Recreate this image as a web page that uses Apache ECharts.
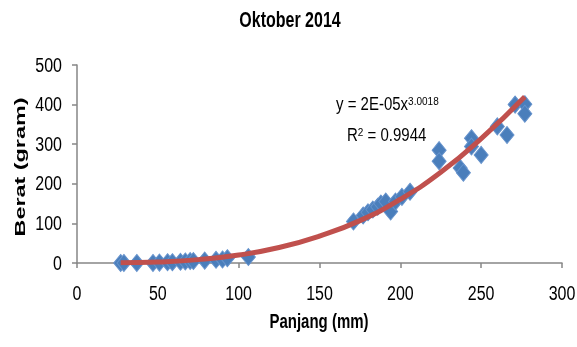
<!DOCTYPE html>
<html>
<head>
<meta charset="utf-8">
<script src="https://cdn.jsdelivr.net/npm/echarts@6/dist/echarts.min.js"></script>
<style>html,body{margin:0;padding:0;background:#fff}#c{width:577px;height:347px}</style>
</head>
<body>
<div id="c"></div>
<script>
// Observed data: Panjang (mm) vs Berat (gram)
var panjang = [27, 29, 37, 47, 51, 56, 59, 64, 67, 70, 72, 79, 86, 90, 93, 106,
  171, 177, 180, 183, 186, 188, 191, 194, 197, 201, 206,
  224, 224, 237, 239, 244, 244, 250, 260, 266, 271, 277, 277];
var berat = [0, 0, 0, 0, 1, 2, 2, 3, 4, 5, 5, 6, 8, 9, 12, 15,
  105, 120, 128, 135, 142, 150, 155, 130, 155, 167, 180,
  285, 257, 240, 228, 315, 294, 273, 345, 323, 400, 401, 377];
// Power trendline
var trendX = [27, 50, 75, 100, 125, 150, 175, 200, 225, 250, 277];
var trendY = [0.4, 2.5, 8.5, 20, 39, 68, 107, 161, 229, 314, 420];
var xTicks = [0, 50, 100, 150, 200, 250, 300];
var yTicks = [0, 100, 200, 300, 400, 500];
var titleText = 'Oktober 2014';
var xName = 'Panjang (mm)';
var yName = 'Berat (gram)';

var FONT = "'Liberation Sans', Arial, sans-serif";
var pts = panjang.map(function (x, i) { return [x, berat[i]]; });
var trend = trendX.map(function (x, i) { return [x, trendY[i]]; });

var chart = echarts.init(document.getElementById('c'), null, { renderer: 'canvas' });
var axisCommon = {
  axisLine: { show: true, onZero: false, lineStyle: { color: '#868686', width: 1.5 } },
  axisTick: { show: true, inside: false, length: 5, lineStyle: { color: '#868686', width: 1.5 } },
  axisLabel: { show: false },
  splitLine: { show: false }
};
chart.setOption({
  animation: false,
  backgroundColor: '#ffffff',
  grid: { left: 77, right: 15, top: 65, bottom: 84, outerBoundsMode: 'none', containLabel: false },
  xAxis: Object.assign({
    type: 'value', min: xTicks[0], max: xTicks[xTicks.length - 1], interval: 50
  }, axisCommon),
  yAxis: Object.assign({
    type: 'value', min: yTicks[0], max: yTicks[yTicks.length - 1], interval: 100
  }, axisCommon),
  series: [
    {
      type: 'scatter', data: pts, symbol: 'diamond', symbolSize: [14, 17],
      itemStyle: { color: '#4A7EBB', borderColor: '#6592CC', borderWidth: 1, opacity: 1 },
      z: 2
    },
    {
      type: 'line', data: trend, smooth: true, symbol: 'none',
      lineStyle: { color: '#C0504D', width: 5 }, z: 3
    }
  ]
});

// Texts drawn with a vertical stretch to mimic the tall condensed lettering of the original
var g = [];
function txt(o) { g.push(o); }
xTicks.forEach(function (v) {
  var p = chart.convertToPixel({ gridIndex: 0 }, [v, yTicks[0]]);
  txt({ type: 'text', x: p[0], y: p[1] + 31, scaleY: 1.28, z: 10,
    style: { text: String(v), align: 'center', verticalAlign: 'middle',
      fontFamily: FONT, fontSize: 16, fill: '#000' } });
});
yTicks.forEach(function (v) {
  var p = chart.convertToPixel({ gridIndex: 0 }, [xTicks[0], v]);
  txt({ type: 'text', x: p[0] - 15, y: p[1] + 1, scaleY: 1.28, z: 10,
    style: { text: String(v), align: 'right', verticalAlign: 'middle',
      fontFamily: FONT, fontSize: 16, fill: '#000' } });
});
txt({ type: 'text', x: 290, y: 21, scaleY: 1.42, z: 10,
  style: { text: titleText, align: 'center', verticalAlign: 'middle',
    fontFamily: FONT, fontWeight: 'bold', fontSize: 16, fill: '#000' } });
txt({ type: 'text', x: 319, y: 323, scaleY: 1.3, z: 10,
  style: { text: xName, align: 'center', verticalAlign: 'middle',
    fontFamily: FONT, fontWeight: 'bold', fontSize: 15, fill: '#000' } });
txt({ type: 'text', x: 21, y: 167, rotation: Math.PI / 2, scaleX: 1.67, z: 10,
  style: { text: yName, align: 'center', verticalAlign: 'middle',
    fontFamily: FONT, fontWeight: 'bold', fontSize: 14, fill: '#000' } });
txt({ type: 'text', x: 336, y: 105, scaleY: 1.18, z: 10,
  style: { text: 'y = 2E-05x{sup|3.0018}', verticalAlign: 'middle', align: 'left',
    fontFamily: FONT, fontSize: 15, fill: '#000',
    rich: { sup: { fontFamily: FONT, fontSize: 10, fill: '#000', verticalAlign: 'top', padding: [0, 0, 5, 0] } } } });
txt({ type: 'text', x: 347, y: 136, scaleY: 1.18, z: 10,
  style: { text: 'R{sup|2} = 0.9944', verticalAlign: 'middle', align: 'left',
    fontFamily: FONT, fontSize: 15, fill: '#000',
    rich: { sup: { fontFamily: FONT, fontSize: 10, fill: '#000', verticalAlign: 'top', padding: [0, 0, 5, 0] } } } });
chart.setOption({ graphic: g });
</script>
</body>
</html>
